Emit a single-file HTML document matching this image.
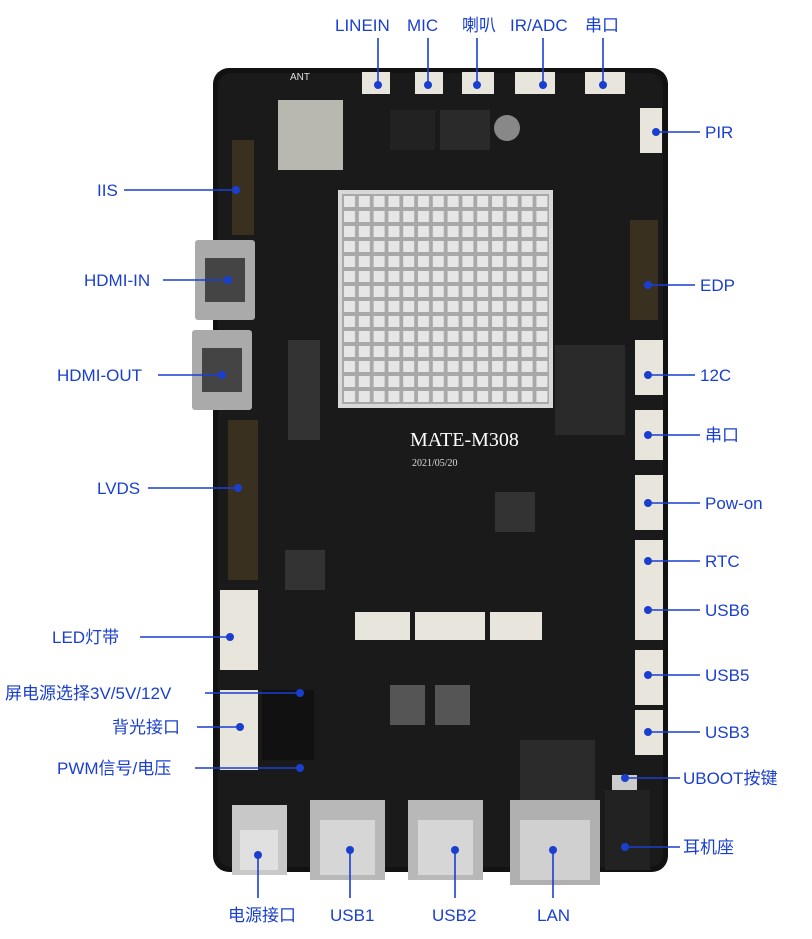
<!DOCTYPE html>
<html><head><meta charset="utf-8"><style>
html,body{margin:0;padding:0;background:#fff;}
svg text{font-family:"Liberation Sans","Noto Sans CJK SC",sans-serif;font-size:17px;fill:#1a3fcf;}
</style></head><body>
<svg width="812" height="934" viewBox="0 0 812 934" xmlns="http://www.w3.org/2000/svg">
<defs>
<pattern id="fin" x="342" y="194" width="14.8" height="15" patternUnits="userSpaceOnUse">
<rect width="14.8" height="15" fill="#a8a8a8"/>
<rect x="2" y="2" width="11" height="11" fill="#e6e6e6"/>
</pattern>
</defs>
<rect x="213" y="68" width="455" height="804" rx="16" fill="#121212"/>
<rect x="218" y="73" width="445" height="794" rx="13" fill="#1a1a1a"/>
<rect x="338" y="190" width="215" height="218" fill="#d8d8d8"/>
<rect x="342" y="194" width="207" height="210" fill="url(#fin)"/>
<rect x="555" y="345" width="70" height="90" fill="#2a2a2a"/>
<rect x="278" y="100" width="65" height="70" fill="#b8b8b0"/>
<rect x="390" y="110" width="45" height="40" fill="#222"/>
<rect x="440" y="110" width="50" height="40" fill="#2a2a2a"/>
<circle cx="507" cy="128" r="13" fill="#888"/>
<rect x="495" y="492" width="40" height="40" fill="#333"/>
<rect x="285" y="550" width="40" height="40" fill="#333"/>
<rect x="390" y="685" width="35" height="40" fill="#555"/>
<rect x="435" y="685" width="35" height="40" fill="#555"/>
<rect x="520" y="740" width="75" height="60" fill="#2b2b2b"/>
<rect x="288" y="340" width="32" height="100" fill="#333"/>
<rect x="232" y="140" width="22" height="95" fill="#3a3020"/>
<rect x="630" y="220" width="28" height="100" fill="#3a3020"/>
<rect x="228" y="420" width="30" height="160" fill="#3a3020"/>
<rect x="195" y="240" width="60" height="80" fill="#aaa" rx="3"/>
<rect x="205" y="258" width="40" height="44" fill="#444"/>
<rect x="192" y="330" width="60" height="80" fill="#aaa" rx="3"/>
<rect x="202" y="348" width="40" height="44" fill="#444"/>
<rect x="220" y="590" width="38" height="80" fill="#e8e6dc"/>
<rect x="220" y="690" width="38" height="80" fill="#e8e6dc"/>
<rect x="262" y="690" width="52" height="70" fill="#111"/>
<g fill="#e8e6dc">
<rect x="640" y="108" width="22" height="45"/>
<rect x="635" y="340" width="28" height="55"/>
<rect x="635" y="410" width="28" height="50"/>
<rect x="635" y="475" width="28" height="55"/>
<rect x="635" y="540" width="28" height="45"/>
<rect x="635" y="585" width="28" height="55"/>
<rect x="635" y="650" width="28" height="55"/>
<rect x="635" y="710" width="28" height="45"/>
<rect x="355" y="612" width="55" height="28"/>
<rect x="415" y="612" width="70" height="28"/>
<rect x="490" y="612" width="52" height="28"/>
<rect x="362" y="72" width="28" height="22"/>
<rect x="415" y="72" width="28" height="22"/>
<rect x="462" y="72" width="32" height="22"/>
<rect x="515" y="72" width="40" height="22"/>
<rect x="585" y="72" width="40" height="22"/>
</g>
<rect x="232" y="805" width="55" height="70" fill="#c8c8c8"/>
<rect x="240" y="830" width="38" height="40" fill="#e0e0e0"/>
<rect x="310" y="800" width="75" height="80" fill="#b8b8b8"/>
<rect x="320" y="820" width="55" height="55" fill="#d6d6d6"/>
<rect x="408" y="800" width="75" height="80" fill="#b8b8b8"/>
<rect x="418" y="820" width="55" height="55" fill="#d6d6d6"/>
<rect x="510" y="800" width="90" height="85" fill="#b0b0b0"/>
<rect x="520" y="820" width="70" height="60" fill="#d0d0d0"/>
<rect x="605" y="790" width="45" height="80" fill="#222"/>
<rect x="612" y="775" width="25" height="15" fill="#ccc"/>
<text x="410" y="446" style="font-family:'Liberation Serif',serif;font-size:20px;fill:#fff">MATE-M308</text>
<text x="412" y="466" style="font-family:'Liberation Serif',serif;font-size:10px;fill:#ddd">2021/05/20</text>
<text x="290" y="80" style="font-size:10px;fill:#ddd">ANT</text>
<g stroke="#1a3fcf" stroke-width="1.6" fill="none">
<line x1="378" y1="38" x2="378" y2="85"/><line x1="428" y1="38" x2="428" y2="85"/>
<line x1="477" y1="38" x2="477" y2="85"/><line x1="543" y1="38" x2="543" y2="85"/>
<line x1="603" y1="38" x2="603" y2="85"/>
<line x1="124" y1="190" x2="236" y2="190"/><line x1="163" y1="280" x2="228" y2="280"/>
<line x1="158" y1="375" x2="222" y2="375"/><line x1="148" y1="488" x2="238" y2="488"/>
<line x1="140" y1="637" x2="230" y2="637"/><line x1="205" y1="693" x2="300" y2="693"/>
<line x1="197" y1="727" x2="240" y2="727"/><line x1="195" y1="768" x2="300" y2="768"/>
<line x1="656" y1="132" x2="700" y2="132"/><line x1="648" y1="285" x2="695" y2="285"/>
<line x1="648" y1="375" x2="695" y2="375"/><line x1="648" y1="435" x2="700" y2="435"/>
<line x1="648" y1="503" x2="700" y2="503"/><line x1="648" y1="561" x2="700" y2="561"/>
<line x1="648" y1="610" x2="700" y2="610"/><line x1="648" y1="675" x2="700" y2="675"/>
<line x1="648" y1="732" x2="700" y2="732"/><line x1="625" y1="778" x2="680" y2="778"/>
<line x1="625" y1="847" x2="680" y2="847"/>
<line x1="258" y1="855" x2="258" y2="898"/><line x1="350" y1="850" x2="350" y2="898"/>
<line x1="455" y1="850" x2="455" y2="898"/><line x1="553" y1="850" x2="553" y2="898"/>
</g>
<g fill="#1a3fcf">
<circle cx="378" cy="85" r="4"/><circle cx="428" cy="85" r="4"/><circle cx="477" cy="85" r="4"/><circle cx="543" cy="85" r="4"/><circle cx="603" cy="85" r="4"/>
<circle cx="236" cy="190" r="4"/><circle cx="228" cy="280" r="4"/><circle cx="222" cy="375" r="4"/><circle cx="238" cy="488" r="4"/><circle cx="230" cy="637" r="4"/><circle cx="300" cy="693" r="4"/><circle cx="240" cy="727" r="4"/><circle cx="300" cy="768" r="4"/>
<circle cx="656" cy="132" r="4"/><circle cx="648" cy="285" r="4"/><circle cx="648" cy="375" r="4"/><circle cx="648" cy="435" r="4"/><circle cx="648" cy="503" r="4"/><circle cx="648" cy="561" r="4"/><circle cx="648" cy="610" r="4"/><circle cx="648" cy="675" r="4"/><circle cx="648" cy="732" r="4"/><circle cx="625" cy="778" r="4"/><circle cx="625" cy="847" r="4"/>
<circle cx="258" cy="855" r="4"/><circle cx="350" cy="850" r="4"/><circle cx="455" cy="850" r="4"/><circle cx="553" cy="850" r="4"/>
</g>
<text x="335" y="31">LINEIN</text><text x="407" y="31">MIC</text><text x="462" y="31">喇叭</text>
<text x="510" y="31">IR/ADC</text><text x="585" y="31">串口</text>
<text x="97" y="196">IIS</text><text x="84" y="286">HDMI-IN</text><text x="57" y="381">HDMI-OUT</text>
<text x="97" y="494">LVDS</text><text x="52" y="643">LED灯带</text><text x="5" y="699">屏电源选择3V/5V/12V</text>
<text x="112" y="733">背光接口</text><text x="57" y="774">PWM信号/电压</text>
<text x="705" y="138">PIR</text><text x="700" y="291">EDP</text><text x="700" y="381">12C</text>
<text x="705" y="441">串口</text><text x="705" y="509">Pow-on</text><text x="705" y="567">RTC</text>
<text x="705" y="616">USB6</text><text x="705" y="681">USB5</text><text x="705" y="738">USB3</text>
<text x="683" y="784">UBOOT按键</text><text x="683" y="853">耳机座</text>
<text x="228" y="921">电源接口</text><text x="330" y="921">USB1</text><text x="432" y="921">USB2</text><text x="537" y="921">LAN</text>
</svg>
</body></html>
